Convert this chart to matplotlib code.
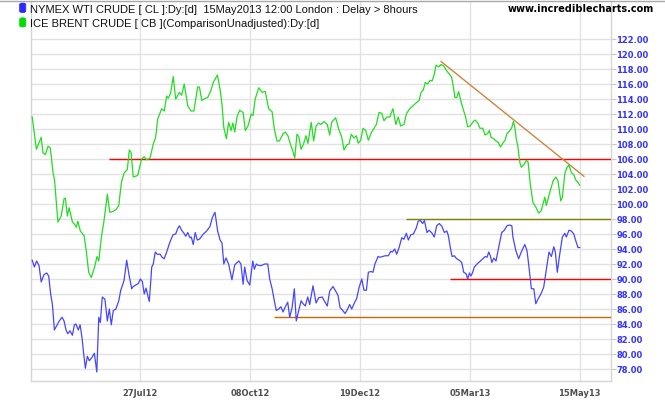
import matplotlib
matplotlib.use("Agg")
import matplotlib.pyplot as plt
from matplotlib.lines import Line2D
from matplotlib.patches import FancyBboxPatch

# ---------------- data (trading-day index, price) ----------------
tick_days = [50, 100, 150, 200, 250]
tick_labels = ["27Jul12", "08Oct12", "19Dec12", "05Mar13", "15May13"]
y_ticks = list(range(78, 123, 2))

brent_series = [
    (0.8, 111.6), (2.7, 107.3), (4.9, 108.9), (5.7, 106.8), (6.8, 106.6), (8.0, 107.7), (9.0, 107.5),
    (10.3, 104.2), (11.0, 103.1), (12.5, 97.6), (14.0, 98.4), (15.3, 100.7), (15.9, 100.8), (16.8, 98.4),
    (17.6, 99.5), (19.1, 97.6), (20.1, 97.3), (20.9, 96.9), (21.6, 97.7), (22.7, 96.4), (24.4, 95.8),
    (25.4, 93.8), (26.5, 90.9), (27.7, 90.2), (29.2, 91.6), (30.3, 93.0), (31.1, 92.4), (32.3, 95.6),
    (33.5, 97.8), (35.0, 101.3), (36.1, 98.9), (37.6, 99.0), (39.1, 99.3), (40.2, 99.8), (41.4, 102.9),
    (42.6, 104.1), (44.1, 104.6), (45.0, 107.2), (45.8, 106.9), (46.8, 103.6), (48.8, 103.8), (50.6, 106.0),
    (51.7, 106.3), (52.9, 105.9), (54.4, 106.1), (55.9, 108.0), (57.0, 108.9), (57.9, 111.3), (59.7, 112.7),
    (60.9, 112.4), (62.0, 114.4), (62.7, 114.1), (63.8, 114.8), (65.0, 117.0), (66.1, 114.0), (67.8, 114.9),
    (68.8, 114.5), (70.0, 116.0), (71.6, 113.1), (73.1, 112.4), (74.4, 112.4), (76.1, 115.6), (76.9, 115.6),
    (78.0, 113.8), (79.5, 114.1), (80.7, 114.2), (82.2, 115.2), (83.2, 116.2), (85.1, 117.2), (86.3, 115.3),
    (87.2, 113.2), (88.0, 110.2), (89.2, 108.7), (90.2, 110.9), (91.3, 109.8), (92.1, 110.8), (93.0, 109.6),
    (94.0, 111.6), (95.2, 112.5), (96.8, 112.2), (97.8, 109.8), (99.0, 110.4), (100.5, 112.0), (101.3, 111.8),
    (102.3, 114.0), (103.9, 115.5), (105.4, 114.9), (106.9, 115.0), (108.4, 112.7), (110.0, 112.3),
    (111.0, 110.0), (112.2, 108.4), (113.3, 108.4), (115.0, 109.4), (116.0, 109.6), (117.2, 109.1),
    (118.3, 108.0), (119.4, 107.1), (120.3, 106.1), (121.3, 109.3), (122.1, 109.0), (123.2, 107.3),
    (124.4, 108.1), (125.4, 109.1), (126.3, 108.1), (127.8, 110.9), (128.9, 108.4), (130.0, 110.4),
    (131.2, 110.8), (132.1, 110.6), (133.6, 111.0), (135.1, 110.6), (136.2, 109.2), (137.1, 110.9),
    (138.9, 111.5), (140.4, 109.9), (141.7, 108.9), (142.7, 107.2), (144.0, 107.9), (145.0, 108.0),
    (146.0, 109.3), (147.3, 108.8), (148.3, 109.1), (149.2, 108.1), (150.3, 108.5), (151.4, 110.1),
    (152.6, 109.8), (153.8, 108.5), (155.3, 109.6), (156.4, 110.1), (157.4, 110.6), (158.7, 112.2),
    (159.9, 112.1), (160.9, 111.1), (162.2, 111.6), (163.5, 111.6), (165.0, 112.7), (166.3, 110.6),
    (167.4, 111.6), (168.5, 110.4), (170.0, 110.6), (171.1, 112.0), (172.6, 112.7), (174.1, 113.1),
    (175.6, 113.5), (176.9, 113.8), (177.8, 114.9), (178.8, 115.2), (179.7, 116.2), (180.8, 116.0),
    (181.9, 116.5), (182.8, 116.4), (183.8, 117.3), (184.6, 118.5), (185.8, 118.3), (186.9, 118.6),
    (188.1, 118.4), (189.1, 117.9), (190.7, 117.3), (191.7, 116.9), (192.5, 115.6), (193.2, 114.2),
    (194.0, 114.2), (194.9, 115.0), (196.0, 113.6), (197.2, 112.4), (197.9, 111.8), (199.0, 110.3),
    (200.1, 110.4), (201.3, 110.9), (202.3, 111.2), (203.6, 110.8), (204.6, 110.1), (205.9, 110.1),
    (206.9, 109.2), (208.1, 109.4), (208.9, 109.8), (209.6, 108.9), (210.9, 108.7), (211.9, 108.4),
    (213.0, 108.2), (213.9, 107.6), (215.0, 108.1), (216.0, 108.5), (216.9, 109.4), (218.0, 109.7),
    (219.1, 110.2), (219.8, 111.0), (220.4, 110.4), (221.1, 108.7), (221.9, 107.6), (222.7, 105.6),
    (223.4, 104.9), (224.7, 105.3), (225.7, 105.8), (226.5, 105.6), (227.5, 102.7), (228.7, 100.2),
    (230.0, 99.6), (231.3, 98.8), (232.5, 99.1), (234.1, 100.9), (234.8, 99.8), (236.4, 101.6),
    (237.9, 103.1), (239.1, 103.6), (240.1, 103.1), (241.4, 100.4), (242.1, 100.9), (243.2, 104.0),
    (244.2, 104.9), (245.1, 105.2), (246.2, 104.2), (247.3, 103.9), (248.2, 103.2), (249.2, 102.9),
    (250.0, 102.5),
]

wti_series = [
    (0.8, 92.5), (1.8, 91.6), (2.8, 92.4), (3.9, 91.8), (4.9, 89.6), (6.2, 90.6), (7.4, 90.8), (8.3, 90.4),
    (9.2, 88.0), (10.0, 86.6), (10.9, 83.2), (12.0, 83.8), (13.1, 84.4), (14.4, 84.9), (15.3, 84.4),
    (16.2, 83.2), (17.0, 82.7), (18.0, 83.1), (19.1, 82.5), (20.0, 83.9), (20.7, 84.0), (21.8, 83.2),
    (22.6, 83.9), (23.5, 82.1), (24.2, 80.1), (25.0, 78.1), (25.9, 79.7), (26.8, 79.1), (27.9, 79.5),
    (29.1, 80.1), (30.2, 77.6), (31.1, 84.9), (31.8, 84.2), (32.7, 87.6), (33.9, 87.3), (35.0, 84.4),
    (35.9, 86.0), (36.8, 83.9), (37.7, 85.8), (38.9, 86.0), (40.2, 87.1), (41.1, 88.5), (41.8, 89.1),
    (42.6, 89.8), (43.8, 92.5), (44.9, 90.5), (46.1, 88.7), (46.8, 89.0), (48.0, 89.2), (49.1, 89.4),
    (50.0, 90.0), (50.9, 89.7), (51.8, 88.0), (52.6, 88.8), (53.4, 87.8), (54.1, 87.0), (55.2, 91.6),
    (55.9, 92.0), (56.8, 93.6), (57.7, 93.3), (59.0, 93.3), (59.9, 92.9), (60.9, 92.7), (62.0, 93.6),
    (63.1, 94.6), (64.0, 95.3), (64.9, 95.9), (66.1, 96.0), (67.0, 96.7), (67.8, 97.1), (68.8, 96.5),
    (69.9, 96.1), (70.7, 95.7), (71.6, 96.2), (72.6, 95.5), (73.2, 95.6), (74.1, 94.6), (75.0, 96.2),
    (75.9, 95.2), (76.9, 95.3), (78.7, 96.0), (80.2, 96.4), (81.7, 97.0), (82.8, 98.2), (84.0, 98.9),
    (85.2, 96.4), (86.3, 95.2), (87.2, 94.8), (88.0, 92.0), (89.0, 92.8), (90.2, 92.0), (91.7, 89.9),
    (93.0, 91.9), (94.8, 92.4), (95.8, 92.0), (96.8, 89.3), (97.5, 91.6), (98.6, 89.8), (99.8, 89.2),
    (101.2, 92.4), (101.9, 91.3), (102.8, 92.0), (103.9, 91.8), (105.1, 91.8), (106.6, 92.0), (108.0, 92.0),
    (108.9, 90.0), (110.0, 88.7), (111.0, 87.1), (111.9, 85.8), (113.0, 86.0), (114.0, 86.3), (115.0, 85.6),
    (116.0, 86.3), (117.1, 86.9), (118.0, 84.9), (119.1, 86.2), (120.1, 88.7), (121.0, 84.4), (122.1, 85.8),
    (123.2, 87.1), (124.1, 86.7), (125.1, 86.4), (126.2, 87.6), (127.1, 86.6), (128.6, 89.1), (130.0, 86.8),
    (131.2, 87.5), (132.8, 87.6), (133.9, 87.0), (135.1, 86.4), (136.2, 88.4), (137.7, 89.0), (138.9, 88.4),
    (140.0, 87.8), (140.9, 86.2), (141.9, 85.9), (143.2, 85.4), (144.2, 85.9), (145.3, 86.6), (146.2, 86.0),
    (147.6, 86.9), (148.5, 87.4), (149.5, 88.8), (150.8, 90.0), (151.8, 88.5), (152.9, 88.5), (153.8, 90.9),
    (154.9, 91.0), (155.9, 90.9), (156.8, 92.0), (158.2, 93.0), (159.1, 92.9), (160.2, 93.0), (161.4, 93.1),
    (162.9, 93.1), (164.0, 93.7), (164.7, 93.6), (165.8, 94.0), (166.7, 93.3), (167.8, 94.2), (169.0, 95.5),
    (170.0, 95.3), (171.1, 96.1), (172.0, 95.2), (173.1, 95.9), (174.3, 96.0), (175.6, 96.8), (176.5, 97.7),
    (177.5, 97.8), (178.5, 97.4), (179.3, 97.8), (180.5, 96.2), (181.5, 96.5), (182.8, 96.1), (183.8, 95.6),
    (184.9, 97.1), (186.1, 97.4), (187.3, 97.0), (188.4, 96.2), (189.5, 96.4), (190.2, 95.8), (191.1, 94.2),
    (191.9, 93.0), (192.9, 93.1), (194.0, 92.7), (195.2, 92.5), (196.3, 92.2), (197.2, 90.9), (198.3, 90.7),
    (199.0, 90.0), (199.8, 90.8), (200.5, 90.4), (201.3, 90.9), (202.0, 91.6), (203.6, 92.1), (204.8, 92.4),
    (205.9, 92.7), (207.0, 93.0), (207.8, 92.9), (208.6, 93.6), (209.3, 93.1), (210.0, 92.2), (210.9, 92.8),
    (211.9, 92.4), (213.1, 94.2), (214.5, 96.2), (215.7, 96.5), (216.9, 97.1), (218.0, 97.2), (219.1, 97.1),
    (219.6, 95.6), (220.9, 93.8), (222.2, 92.7), (223.4, 93.6), (225.0, 94.6), (226.0, 93.8), (226.9, 91.6),
    (228.0, 88.7), (229.1, 88.7), (230.0, 86.7), (231.0, 87.3), (232.3, 88.0), (233.6, 88.9), (234.8, 91.3),
    (236.0, 93.6), (237.1, 93.0), (238.2, 94.3), (238.9, 93.6), (239.8, 90.9), (240.9, 93.3), (242.1, 95.6),
    (243.2, 96.1), (243.9, 95.6), (245.1, 96.5), (246.2, 96.4), (247.3, 96.0), (248.2, 95.1), (249.2, 94.2),
    (250.0, 94.2),
]

# horizontal support / resistance lines: (level, start day)
h_levels = [106.0, 98.0, 90.0, 85.0]
h_starts = [35.8, 171.1, 191.1, 111.0]
h_colors = ["#ff0000", "#808000", "#ff0000", "#cc6600"]
# falling trend line: (day, price) ends
trend_days = [186.9, 251.9]
trend_prices = [119.0, 103.7]

legend_wti = "NYMEX WTI CRUDE [ CL ]:Dy:[d]  15May2013 12:00 London : Delay > 8hours"
legend_brent = "ICE BRENT CRUDE [ CB ](ComparisonUnadjusted):Dy:[d]"
site = "www.incrediblecharts.com"

# ---------------- figure ----------------
W, H = 665, 405
fig = plt.figure(figsize=(W / 100, H / 100), dpi=100)
fig.patch.set_facecolor("white")

x_left_px, x_right_px, y_top_px, y_bot_px = 31.3, 610.7, 1.0, 381.0
ax = fig.add_axes([x_left_px / W, 1 - y_bot_px / H,
                   (x_right_px - x_left_px) / W, (y_bot_px - y_top_px) / H])
XMIN, XMAX = 0.39, 264.1
ax.set_xlim(XMIN, XMAX)
ax.set_ylim(76.4, 127.07)

grid_c = "#e2e2e2"
for s in ax.spines.values():
    s.set_color("#d6d6d6")
    s.set_linewidth(1.0)
ax.spines["top"].set_visible(False)

ax.set_yticks(y_ticks)
ax.set_yticklabels([f"{v:.2f}" for v in y_ticks])
ax.yaxis.tick_right()
ax.set_xticks(tick_days)
ax.set_xticklabels(tick_labels)
ax.grid(True, color=grid_c, linewidth=1.0)
ax.set_axisbelow(True)
ax.tick_params(axis="y", which="both", right=True, left=False, length=3.8, width=0.8,
               color="#c8c8c8", pad=0.3, labelsize=6, labelcolor="#3333ff")
ax.tick_params(axis="x", length=0, pad=5.5, labelsize=6, labelcolor="#505050")
for lab in ax.get_yticklabels() + ax.get_xticklabels():
    lab.set_fontfamily("DejaVu Sans")
    lab.set_fontweight("bold")

# lines
for lvl, st, c in zip(h_levels, h_starts, h_colors):
    ax.plot([st, XMAX], [lvl, lvl], color=c, linewidth=1.0, solid_capstyle="butt", zorder=3)
ax.plot(trend_days, trend_prices, color="#cd853f", linewidth=1.0, zorder=3)

bd, bp = zip(*brent_series)
wd, wp = zip(*wti_series)
ax.plot(bd, bp, color="#22dd22", linewidth=0.9, zorder=4)
ax.plot(wd, wp, color="#4646ff", linewidth=0.9, zorder=4)

# top border of figure
fig.add_artist(Line2D([0, 1], [1 - 1.0 / H, 1 - 1.0 / H], transform=fig.transFigure,
                      color="#a8a8a8", linewidth=1.0))

# legend markers and texts
def marker(y0, y1, color):
    p = FancyBboxPatch((19.6 / W, 1 - y1 / H), 6.2 / W, (y1 - y0) / H,
                       boxstyle="round,pad=0,rounding_size=0.004",
                       transform=fig.transFigure, facecolor=color, edgecolor=color, linewidth=0.5)
    fig.add_artist(p)

marker(3.0, 12.6, "#2b2bff")
marker(17.8, 27.0, "#00dd00")
fig.text(30 / W, 1 - 12.8 / H, legend_wti, fontsize=8, family="Liberation Sans",
         color="#111111", ha="left", va="baseline")
fig.text(30 / W, 1 - 26.8 / H, legend_brent, fontsize=8, family="Liberation Sans",
         color="#111111", ha="left", va="baseline")
fig.text(508 / W, 1 - 11.8 / H, site, fontsize=7, family="DejaVu Sans", fontweight="bold",
         color="#000000", ha="left", va="baseline")

fig.savefig("out.png", dpi=100, facecolor="white")
